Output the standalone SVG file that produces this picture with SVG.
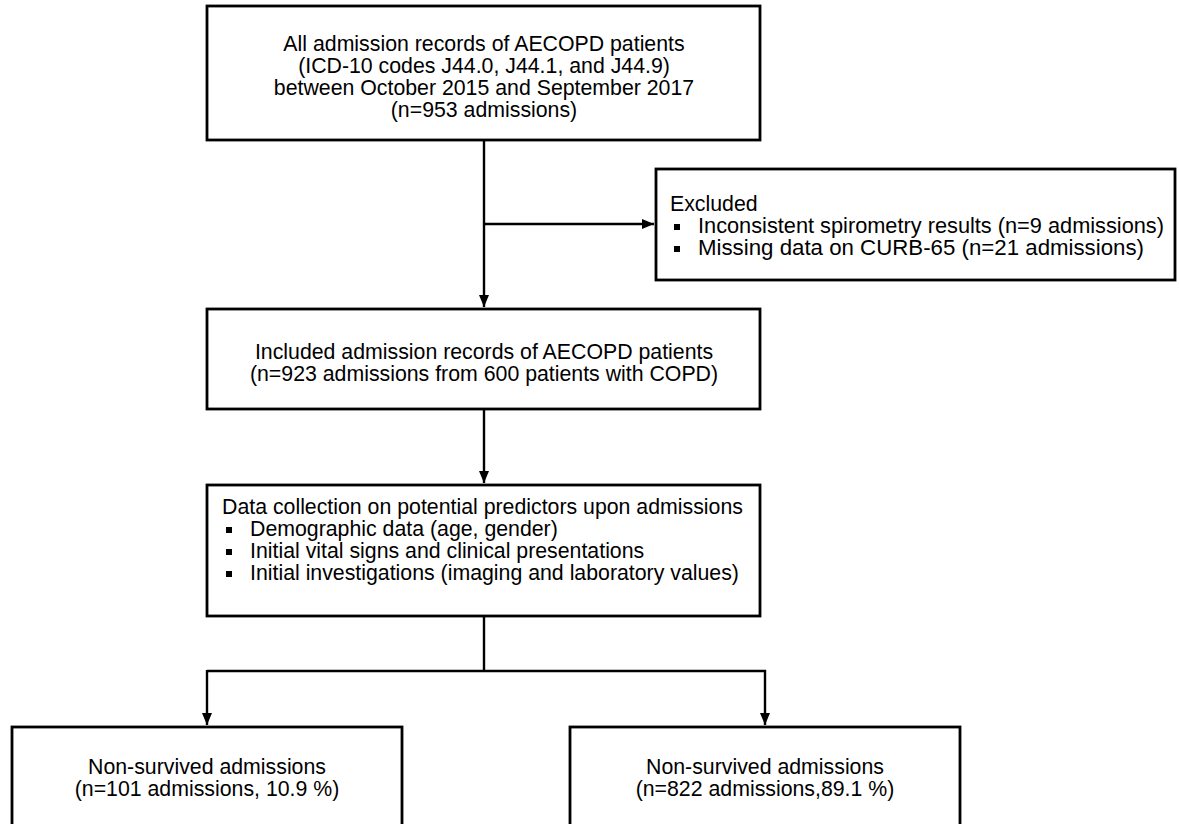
<svg xmlns="http://www.w3.org/2000/svg" width="1179" height="824" viewBox="0 0 1179 824">
<defs>
<style>
.box{fill:#fff;stroke:#000;stroke-width:2.8}
.t{font-family:"Liberation Sans",Arial,sans-serif;font-size:21.3px;fill:#000}
.c{text-anchor:middle}
.ln{fill:none;stroke:#000;stroke-width:2.4}
.b{fill:#000}
</style>
<marker id="ah" viewBox="0 0 12 10" refX="12" refY="5" markerWidth="12" markerHeight="10" markerUnits="userSpaceOnUse" orient="auto">
<path d="M0,0 L12,5 L0,10 Z" fill="#000"/>
</marker>
</defs>
<rect width="1179" height="824" fill="#fff"/>
<g id="connectors">
<line class="ln" x1="484" y1="140" x2="484" y2="307" marker-end="url(#ah)"/>
<line class="ln" x1="484" y1="224" x2="654" y2="224" marker-end="url(#ah)"/>
<line class="ln" x1="484" y1="409" x2="484" y2="483" marker-end="url(#ah)"/>
<polyline class="ln" points="484,616 484,671"/>
<polyline class="ln" points="207,671 765,671 765,725" marker-end="url(#ah)"/>
<line class="ln" x1="207" y1="670" x2="207" y2="725" marker-end="url(#ah)"/>
</g>
<g id="n1">
<rect class="box" x="207" y="6" width="553" height="134"/>
<text class="t c" x="484" y="51">All admission records of AECOPD patients</text>
<text class="t c" x="484" y="73">(ICD-10 codes J44.0, J44.1, and J44.9)</text>
<text class="t c" x="484" y="95">between October 2015 and September 2017</text>
<text class="t c" x="484" y="117">(n=953 admissions)</text>
</g>
<g id="excluded">
<rect class="box" x="656" y="169" width="519" height="111"/>
<text class="t" x="670" y="211">Excluded</text>
<rect class="b" x="674" y="224" width="6" height="6"/>
<text class="t" x="698" y="233" textLength="466" lengthAdjust="spacingAndGlyphs">Inconsistent spirometry results (n=9 admissions)</text>
<rect class="b" x="674" y="246" width="6" height="6"/>
<text class="t" x="698" y="255" textLength="446" lengthAdjust="spacingAndGlyphs">Missing data on CURB-65 (n=21 admissions)</text>
</g>
<g id="included">
<rect class="box" x="207" y="309" width="553" height="100"/>
<text class="t c" x="484" y="359">Included admission records of AECOPD patients</text>
<text class="t c" x="484" y="381">(n=923 admissions from 600 patients with COPD)</text>
</g>
<g id="data">
<rect class="box" x="207" y="485" width="553" height="131"/>
<text class="t" x="222" y="514">Data collection on potential predictors upon admissions</text>
<rect class="b" x="226" y="527" width="6" height="6"/>
<text class="t" x="250" y="536">Demographic data (age, gender)</text>
<rect class="b" x="226" y="549" width="6" height="6"/>
<text class="t" x="250" y="558">Initial vital signs and clinical presentations</text>
<rect class="b" x="226" y="571" width="6" height="6"/>
<text class="t" x="250" y="580">Initial investigations (imaging and laboratory values)</text>
</g>
<g id="nonsurv1">
<rect class="box" x="12" y="727" width="390" height="120"/>
<text class="t c" x="207" y="774">Non-survived admissions</text>
<text class="t c" x="207" y="796">(n=101 admissions, 10.9 %)</text>
</g>
<g id="nonsurv2">
<rect class="box" x="570" y="727" width="390" height="120"/>
<text class="t c" x="765" y="774">Non-survived admissions</text>
<text class="t c" x="765" y="796">(n=822 admissions,89.1 %)</text>
</g>
</svg>
